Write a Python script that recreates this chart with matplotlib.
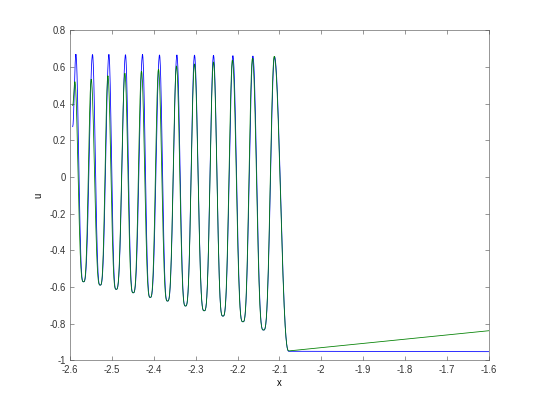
import numpy as np
import matplotlib
matplotlib.use('Agg')
import matplotlib.pyplot as plt

plt.rcParams['font.family'] = ['Liberation Sans', 'DejaVu Sans']

# values (extrema of the wave train)
start_x = -2.594
blue_start_u = 0.275
green_start_u = 0.39

blue_peak_x = [-2.5864, -2.5467, -2.5075, -2.4679, -2.4272, -2.3866,
               -2.3450, -2.3030, -2.2576, -2.2112, -2.1634, -2.1118]
blue_peak_u = [0.668, 0.668, 0.667, 0.667, 0.667, 0.666,
               0.666, 0.665, 0.664, 0.662, 0.660, 0.657]

green_peak_x = [-2.5888, -2.5498, -2.5099, -2.4693, -2.4296, -2.3890,
                -2.3460, -2.3030, -2.2576, -2.2122, -2.1644, -2.1125]
green_peak_u = [0.520, 0.533, 0.551, 0.566, 0.577, 0.588,
                0.606, 0.617, 0.628, 0.638, 0.648, 0.657]

trough_x = [-2.5682, -2.5283, -2.4901, -2.4495, -2.4088, -2.3675,
            -2.3245, -2.2798, -2.2351, -2.1873, -2.1381]
trough_u = [-0.571, -0.589, -0.612, -0.631, -0.656, -0.676,
            -0.703, -0.729, -0.758, -0.789, -0.834]

foot_x = -2.0775
blue_foot_u = -0.950
green_foot_u = -0.948

end_x = -1.6
blue_end_u = -0.952
green_end_u = -0.838

x_ticks = [-2.6, -2.5, -2.4, -2.3, -2.2, -2.1, -2.0, -1.9, -1.8, -1.7, -1.6]
y_ticks = [-1, -0.8, -0.6, -0.4, -0.2, 0, 0.2, 0.4, 0.6, 0.8]


def segment(x0, u0, x1, u1, p, n=40):
    # narrow-peaked piece between two extrema
    s = np.linspace(0, 1, n)
    if u0 > u1:
        f = ((1 + np.cos(np.pi * s)) / 2) ** p
        u = u1 + (u0 - u1) * f
    else:
        f = ((1 + np.cos(np.pi * (1 - s))) / 2) ** p
        u = u0 + (u1 - u0) * f
    return x0 + (x1 - x0) * s, u


def build(start_u, peak_x, peak_u, foot_u, end_u):
    xs, us = [], []
    x, u = segment(start_x, start_u, peak_x[0], peak_u[0], 1.0, 10)
    xs.append(x); us.append(u)
    for i in range(len(trough_x)):
        x, u = segment(peak_x[i], peak_u[i], trough_x[i], trough_u[i], 1.7)
        xs.append(x); us.append(u)
        x, u = segment(trough_x[i], trough_u[i], peak_x[i + 1], peak_u[i + 1], 1.7)
        xs.append(x); us.append(u)
    x, u = segment(peak_x[-1], peak_u[-1], foot_x, foot_u, 1.3, 60)
    xs.append(x); us.append(u)
    xs.append(np.array([foot_x, end_x])); us.append(np.array([foot_u, end_u]))
    return np.concatenate(xs), np.concatenate(us)


bx, bu = build(blue_start_u, blue_peak_x, blue_peak_u, blue_foot_u, blue_end_u)
gx, gu = build(green_start_u, green_peak_x, green_peak_u, green_foot_u, green_end_u)

fig = plt.figure(figsize=(7.5, 5.625), dpi=72)
ax = fig.add_axes([0.13, 0.11, 0.775, 0.815])
ax.plot(bx, bu, color=(0, 0, 1), lw=0.8)
ax.plot(gx, gu, color=(0, 0.5, 0), lw=0.8)

ax.set_xlim(-2.6, -1.6)
ax.set_ylim(-1, 0.8)
ax.set_xticks(x_ticks)
ax.set_xticklabels(['%g' % v for v in x_ticks])
ax.set_yticks(y_ticks)
ax.set_yticklabels(['%g' % v for v in y_ticks])
ax.tick_params(direction='in', top=True, right=True, length=4, width=0.5,
               labelsize=9.5, colors='#333333')
ax.tick_params(axis='x', pad=5)
ax.tick_params(axis='y', pad=4)
for sp in ax.spines.values():
    sp.set_linewidth(0.6)
    sp.set_color('#555555')
ax.set_xlabel('x', fontsize=9.5, labelpad=3)
ax.set_ylabel('u', fontsize=9.5, labelpad=6)

fig.savefig('out.png', dpi=72)
